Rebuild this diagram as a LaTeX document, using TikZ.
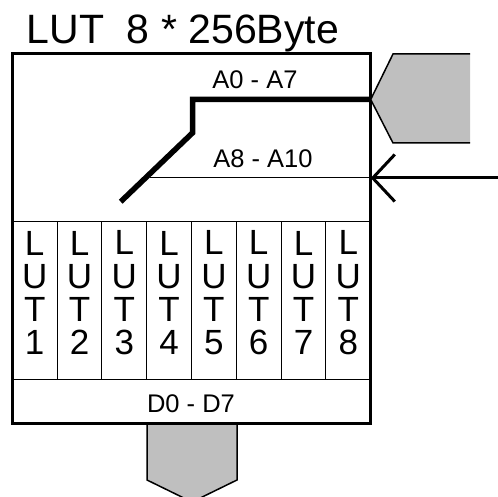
\documentclass[tikz,border=0pt]{standalone}
\usepackage{fontspec}
\setmainfont{Liberation Sans}
\usetikzlibrary{arrows.meta,positioning}

\tikzset{
  lutbox/.style={draw, line width=3.3pt, minimum width=358.4pt, minimum height=370pt, inner sep=0pt},
  lutcell/.style={draw, line width=1pt, minimum width=44.8pt, minimum height=157.3pt, inner sep=0pt, outer sep=0pt},
  lutletters/.style={align=center, font=\fontsize{35}{33.3}\selectfont, inner sep=0pt},
  buslabel/.style={font=\fontsize{25.5}{25.5}\selectfont, inner sep=0pt},
  graybus/.style={fill=black!25},
  grayedge/.style={line width=1.5pt, line join=miter},
  addrbus/.style={line width=5.5pt, line join=miter},
}

\begin{document}
\begin{tikzpicture}[x=1pt,y=-1pt]
\useasboundingbox (0,0) rectangle (498,497);

% data output bus
\fill[graybus] (147,423) -- (147,480) -- (192,502) -- (237,480) -- (237,423) -- cycle;
\draw[grayedge] (147,423) -- (147,480) -- (192,502) -- (237,480) -- (237,423);

\node[anchor=base west, inner sep=0pt, font=\fontsize{41}{41}\selectfont] (title) at (26.5,43.5) {LUT\ \ 8 * 256Byte};

\node[lutbox] (box) at (191.5,238.3) {};

% the eight tables
\node[lutcell] (cell1) at (34.7,300.4) {};
\foreach \i [remember=\i as \j (initially 1)] in {2,...,8}
  \node[lutcell, right=0pt of cell\j] (cell\i) {};
\foreach \i in {1,...,8}
  \node[lutletters] at ([yshift=7.4pt]cell\i.center) {L\\U\\T\\\i};

\node[buslabel] (dlabel) at (191,404) {D0 - D7};
\node[buslabel] (alow) at (255,80) {A0 - A7};
\node[buslabel] (ahigh) at (263,159) {A8 - A10};

% address input bus A0-A7
\coordinate (atip) at (370.7,99.5);
\fill[graybus] (470,54) -- (393,54) -- (atip) -- (393,143) -- (470,143) -- cycle;
\draw[grayedge] (470,54) -- (393,54) -- (atip) -- (393,143) -- (470,143);
\draw[addrbus] (atip) -- (192.7,99.5) -- (192.7,132.7) -- (120.7,201.7);

% address input A8-A10
\coordinate (hin) at (370.7,178);
\coordinate (hout) at (498,178);
\coordinate (hend) at (150,178);
\draw[line width=1pt] (hend) -- (hin);
\draw[line width=3pt, -{Straight Barb[length=22pt, width=47pt]}] (hout) -- (hin);
\end{tikzpicture}
\end{document}
